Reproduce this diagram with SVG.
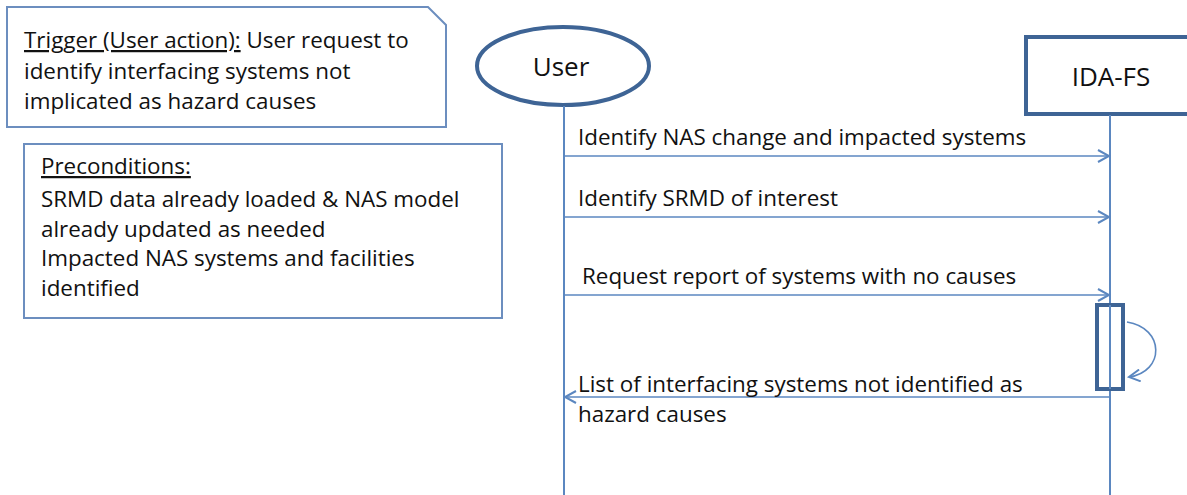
<svg xmlns="http://www.w3.org/2000/svg" width="1187" height="495" viewBox="0 0 1187 495">
<style>
text{font-family:"Open Sans","Liberation Sans",Arial,sans-serif;font-size:22.4px;fill:#111}
text.big{font-size:26px}
.note{fill:#fff;stroke:#6c8ebf;stroke-width:2}
.thick{fill:#fff;stroke:#3e6495;stroke-width:4}
.life{stroke:#5b87c0;stroke-width:2;fill:none}
.msg{stroke:#5b87c0;stroke-width:1.6;fill:none}
</style>
<defs>
<marker id="open" markerWidth="14" markerHeight="14" refX="12" refY="7" orient="auto" markerUnits="userSpaceOnUse">
<path d="M1,1 L12,7 L1,13" fill="none" stroke="#5b87c0" stroke-width="2"/>
</marker>
</defs>
<g id="trigger">
<path class="note" d="M7,7 H428 L446,25 V127 H7 Z"/>
<text x="24" y="48"><tspan text-decoration="underline">Trigger (User action):</tspan> User request to</text>
<text x="24" y="79">identify interfacing systems not</text>
<text x="24" y="109">implicated as hazard causes</text>
</g>
<g id="preconditions">
<rect class="note" x="24" y="144" width="478" height="174"/>
<text x="41" y="174" text-decoration="underline">Preconditions:</text>
<text x="41" y="207">SRMD data already loaded &amp; NAS model</text>
<text x="41" y="237">already updated as needed</text>
<text x="41" y="266">Impacted NAS systems and facilities</text>
<text x="41" y="296">identified</text>
</g>
<g id="user">
<ellipse class="thick" cx="563" cy="66" rx="86" ry="39"/>
<text class="big" x="561" y="76" text-anchor="middle">User</text>
</g>
<g id="idafs">
<rect class="thick" x="1026" y="37" width="170" height="77"/>
<text class="big" x="1111" y="86" text-anchor="middle">IDA-FS</text>
</g>
<g id="connectors">
<line class="life" x1="564" y1="106" x2="564" y2="495"/>
<line class="life" x1="1110" y1="115" x2="1110" y2="495"/>
<line class="msg" x1="564" y1="156" x2="1109" y2="156" marker-end="url(#open)"/>
<line class="msg" x1="564" y1="217" x2="1109" y2="217" marker-end="url(#open)"/>
<line class="msg" x1="564" y1="295" x2="1109" y2="295" marker-end="url(#open)"/>
<rect x="1097" y="305" width="26" height="84" fill="none" stroke="#3e6495" stroke-width="4"/>
<line class="life" x1="1110" y1="305" x2="1110" y2="389"/>
<path class="msg" d="M1127,322 C1165,328 1165,372 1129,377" marker-end="url(#open)"/>
<line class="msg" x1="1110" y1="397" x2="565" y2="397" marker-end="url(#open)"/>
<text x="578" y="145">Identify NAS change and impacted systems</text>
<text x="578" y="206">Identify SRMD of interest</text>
<text x="582" y="284">Request report of systems with no causes</text>
<text x="578" y="392">List of interfacing systems not identified as</text>
<text x="578" y="422">hazard causes</text>
</g>
</svg>
